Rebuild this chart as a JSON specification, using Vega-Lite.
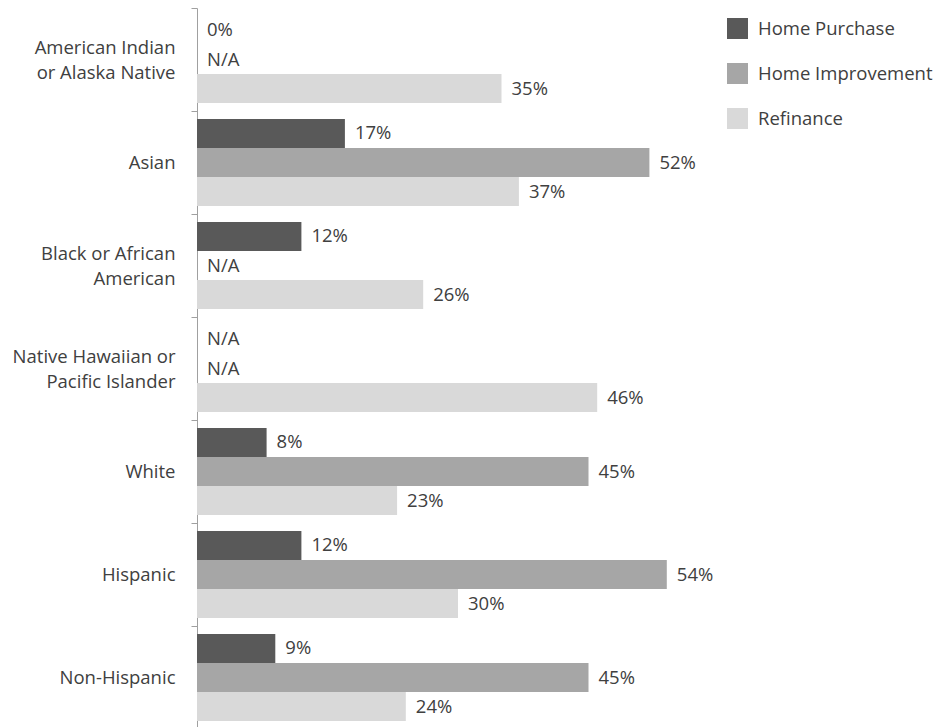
{
  "$schema": "https://vega.github.io/schema/vega-lite/v6.json",
  "autosize": "none",
  "width": 696,
  "height": 721,
  "padding": {"left": 197, "top": 8, "right": 41, "bottom": 0},
  "background": "white",
  "config": {
    "view": {"stroke": null},
    "font": "Open Sans"
  },
  "data": {
    "values": [
      {"group": "American Indian or Alaska Native", "type": "Home Purchase", "value": 0},
      {"group": "American Indian or Alaska Native", "type": "Home Improvement", "value": null},
      {"group": "American Indian or Alaska Native", "type": "Refinance", "value": 0.35},
      {"group": "Asian", "type": "Home Purchase", "value": 0.17},
      {"group": "Asian", "type": "Home Improvement", "value": 0.52},
      {"group": "Asian", "type": "Refinance", "value": 0.37},
      {"group": "Black or African American", "type": "Home Purchase", "value": 0.12},
      {"group": "Black or African American", "type": "Home Improvement", "value": null},
      {"group": "Black or African American", "type": "Refinance", "value": 0.26},
      {"group": "Native Hawaiian or Pacific Islander", "type": "Home Purchase", "value": null},
      {"group": "Native Hawaiian or Pacific Islander", "type": "Home Improvement", "value": null},
      {"group": "Native Hawaiian or Pacific Islander", "type": "Refinance", "value": 0.46},
      {"group": "White", "type": "Home Purchase", "value": 0.08},
      {"group": "White", "type": "Home Improvement", "value": 0.45},
      {"group": "White", "type": "Refinance", "value": 0.23},
      {"group": "Hispanic", "type": "Home Purchase", "value": 0.12},
      {"group": "Hispanic", "type": "Home Improvement", "value": 0.54},
      {"group": "Hispanic", "type": "Refinance", "value": 0.30},
      {"group": "Non-Hispanic", "type": "Home Purchase", "value": 0.09},
      {"group": "Non-Hispanic", "type": "Home Improvement", "value": 0.45},
      {"group": "Non-Hispanic", "type": "Refinance", "value": 0.24}
    ]
  },
  "encoding": {
    "y": {
      "field": "group",
      "type": "nominal",
      "sort": null,
      "scale": {"paddingInner": 0, "paddingOuter": 0},
      "axis": {
        "title": null,
        "tickBand": "extent",
        "tickSize": 6,
        "tickColor": "#a0a0a0",
        "domainColor": "#a0a0a0",
        "labelPadding": 16,
        "labelFontSize": 18.5,
        "labelColor": "#404040",
        "labelLineHeight": 25,
        "labelLimit": 300,
        "labelOffset": {
          "condition": {"test": "indexof(['American Indian or Alaska Native', 'Black or African American', 'Native Hawaiian or Pacific Islander'], datum.value) >= 0", "value": -12},
          "value": 0
        },
        "labelExpr": "datum.value == 'American Indian or Alaska Native' ? ['American Indian', 'or Alaska Native'] : datum.value == 'Black or African American' ? ['Black or African', 'American'] : datum.value == 'Native Hawaiian or Pacific Islander' ? ['Native Hawaiian or', 'Pacific Islander'] : datum.value"
      }
    },
    "yOffset": {
      "field": "type",
      "type": "nominal",
      "sort": ["Home Purchase", "Home Improvement", "Refinance"],
      "scale": {"paddingInner": 0, "paddingOuter": 0.275}
    }
  },
  "layer": [
    {
      "mark": {"type": "bar"},
      "encoding": {
        "x": {"field": "value", "type": "quantitative", "scale": {"domain": [0, 0.8]}, "axis": null},
        "color": {
          "field": "type",
          "type": "nominal",
          "sort": ["Home Purchase", "Home Improvement", "Refinance"],
          "scale": {"domain": ["Home Purchase", "Home Improvement", "Refinance"], "range": ["#595959", "#a6a6a6", "#d9d9d9"]},
          "legend": {
            "title": null,
            "orient": "none",
            "legendX": 530,
            "legendY": 10,
            "symbolType": "square",
            "symbolSize": 441,
            "symbolStrokeWidth": 0,
            "symbolOpacity": 1,
            "labelFontSize": 18.5,
            "labelColor": "#404040",
            "labelOffset": 10,
            "rowPadding": 24,
            "labelLimit": 300
          }
        }
      }
    },
    {
      "transform": [
        {"calculate": "isValid(datum.value) ? datum.value : 0", "as": "lx"},
        {"calculate": "isValid(datum.value) ? format(datum.value, '.0%') : 'N/A'", "as": "label"}
      ],
      "mark": {"type": "text", "align": "left", "baseline": "middle", "dx": 10, "fontSize": 18.5, "color": "#404040"},
      "encoding": {
        "x": {"field": "lx", "type": "quantitative"},
        "text": {"field": "label"}
      }
    }
  ]
}
